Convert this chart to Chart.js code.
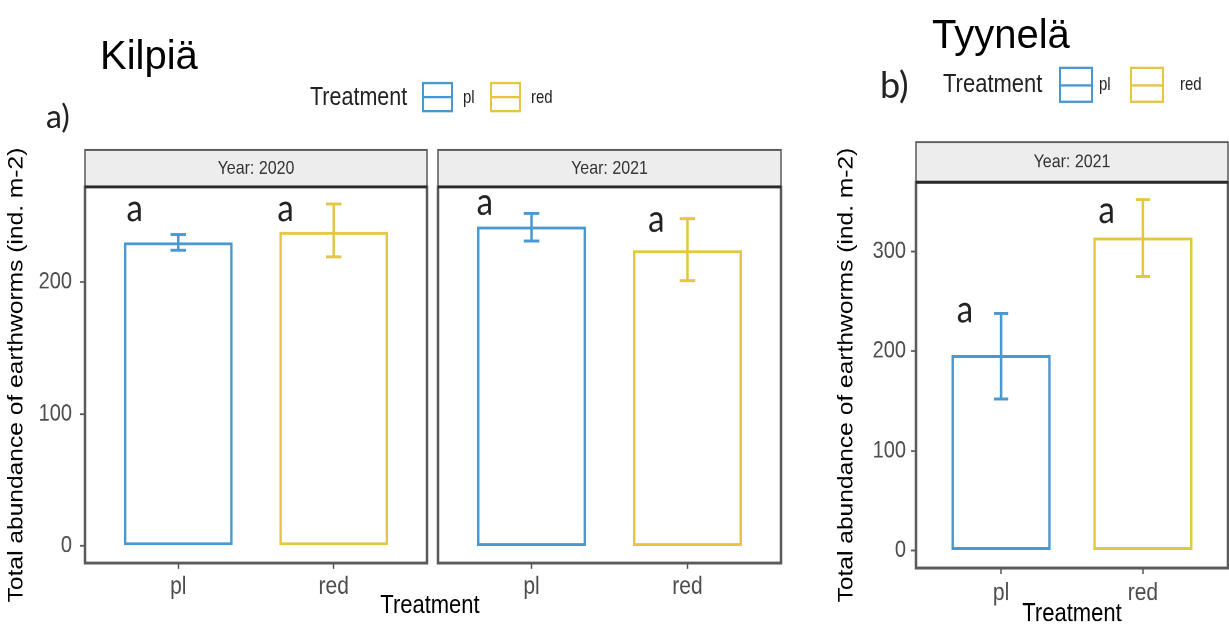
<!DOCTYPE html>
<html>
<head>
<meta charset="utf-8">
<script src="https://cdn.jsdelivr.net/npm/chart.js@4"></script>
<style>
  body { margin: 0; width: 1229px; height: 631px; background: #fff; position: relative; overflow: hidden; font-family: "Liberation Sans", Arial, sans-serif; }
  #fig { position: absolute; left: 0; top: 0; width: 1229px; height: 540px; transform: scaleY(1.17); transform-origin: 0 0; }
  .box { position: absolute; }
  .txt { position: absolute; white-space: nowrap; color: #222; }
  .key { position: absolute; box-sizing: border-box; border: 2px solid; background: #fff; }
  .key div { position: absolute; left: 0; right: 0; top: 50%; height: 2px; margin-top: -1px; }
  .title { position: absolute; font-size: 40px; line-height: 1; color: #000; white-space: nowrap; }
  .panel { position: absolute; font-family: Lato, "Open Sans", sans-serif; line-height: 1; color: #222; }
</style>
</head>
<body>
<div id="fig">
  <div class="box" style="left:0;top:118px;width:432px;height:422px"><canvas id="k2020"></canvas></div>
  <div class="box" style="left:432px;top:118px;width:352px;height:422px"><canvas id="k2021"></canvas></div>
  <div class="box" style="left:830px;top:118px;width:399px;height:422px"><canvas id="t2021"></canvas></div>

  <div class="txt" style="left:330px;top:504px;width:200px;text-align:center;font-size:22px;line-height:26px;color:#000">Treatment</div>

  <div class="txt" style="left:310px;top:69.7px;font-size:21.5px;line-height:26.5px">Treatment</div>
  <div class="key" style="left:422px;top:69.7px;width:31px;height:26.5px;border-color:#4a98d0"><div style="background:#4a98d0"></div></div>
  <div class="txt" style="left:463px;top:69.7px;font-size:15px;line-height:26.5px">pl</div>
  <div class="key" style="left:490px;top:69.7px;width:31px;height:26.5px;border-color:#e5c640"><div style="background:#e5c640"></div></div>
  <div class="txt" style="left:531px;top:69.7px;font-size:15px;line-height:26.5px">red</div>

  <div class="txt" style="left:943px;top:57.2px;font-size:22px;line-height:30.8px">Treatment</div>
  <div class="key" style="left:1059px;top:57.2px;width:34px;height:30.8px;border-color:#4a98d0"><div style="background:#4a98d0"></div></div>
  <div class="txt" style="left:1099px;top:57.2px;font-size:15px;line-height:30.8px">pl</div>
  <div class="key" style="left:1130px;top:57.2px;width:34px;height:30.8px;border-color:#e5c640"><div style="background:#e5c640"></div></div>
  <div class="txt" style="left:1180px;top:57.2px;font-size:15px;line-height:30.8px">red</div>
</div>

<div class="title" style="left:100px;top:35px">Kilpiä</div>
<div class="title" style="left:932px;top:14px">Tyynelä</div>
<div class="panel" style="left:46px;top:100px;font-size:32px">a)</div>
<div class="panel" style="left:880px;top:66px;font-size:36px">b)</div>

<script>
const treatments = ['pl', 'red'];
const treatmentColors = ['#4a98d0', '#e5c640'];
const yTitle = 'Total abundance of earthworms (ind. m-2)';

// Kilpiä, Year 2020
const kilpia2020Mean = [230, 238];
const kilpia2020Lower = [224, 219];
const kilpia2020Upper = [236, 259];
const kilpia2020Letters = ['a', 'a'];
const kilpia2020LetterX = [0.72, 1.69];
const kilpia2020LetterY = [253, 253];

// Kilpiä, Year 2021
const kilpia2021Mean = [242, 224];
const kilpia2021Lower = [231, 201];
const kilpia2021Upper = [252, 248];
const kilpia2021Letters = ['a', 'a'];
const kilpia2021LetterX = [0.70, 1.80];
const kilpia2021LetterY = [258, 245];

// Tyynelä, Year 2021
const tyynela2021Mean = [196, 314];
const tyynela2021Lower = [152, 275];
const tyynela2021Upper = [238, 352];
const tyynela2021Letters = ['a', 'a'];
const tyynela2021LetterX = [0.745, 1.745];
const tyynela2021LetterY = [238, 338];

const FONT = "'Liberation Sans', Arial, sans-serif";

// error bars, letters, panel border and facet strip
const facetPlugin = {
  id: 'facet',
  afterDatasetsDraw(chart, args, o) {
    const { ctx, scales: { x, y } } = chart;
    const half = x.getPixelForValue(1.05) - x.getPixelForValue(1);
    ctx.save();
    ctx.lineWidth = 2.5;
    o.lower.forEach((lo, i) => {
      const px = x.getPixelForValue(i + 1);
      const yl = y.getPixelForValue(lo), yu = y.getPixelForValue(o.upper[i]);
      ctx.strokeStyle = treatmentColors[i];
      ctx.beginPath();
      ctx.moveTo(px, yl); ctx.lineTo(px, yu);
      ctx.moveTo(px - half, yl); ctx.lineTo(px + half, yl);
      ctx.moveTo(px - half, yu); ctx.lineTo(px + half, yu);
      ctx.stroke();
    });
    ctx.fillStyle = '#222';
    ctx.font = "33px Lato, 'Open Sans', sans-serif";
    ctx.textAlign = 'center';
    ctx.textBaseline = 'alphabetic';
    o.letters.forEach((l, i) => {
      ctx.fillText(l, x.getPixelForValue(o.letterX[i]), y.getPixelForValue(o.letterY[i]) + 8);
    });
    ctx.restore();
  },
  afterDraw(chart, args, o) {
    const { ctx, chartArea: a } = chart;
    ctx.save();
    ctx.strokeStyle = '#5a5a5a';
    ctx.lineWidth = 2.5;
    ctx.strokeRect(a.left, a.top, a.right - a.left, a.bottom - a.top);
    const h = o.stripHeight;
    ctx.fillStyle = '#ededed';
    ctx.fillRect(a.left, a.top - h, a.right - a.left, h);
    ctx.lineWidth = 1.5;
    ctx.strokeRect(a.left, a.top - h, a.right - a.left, h);
    ctx.strokeStyle = '#2a2a2a';
    ctx.lineWidth = 2.5;
    ctx.beginPath(); ctx.moveTo(a.left, a.top); ctx.lineTo(a.right, a.top); ctx.stroke();
    ctx.fillStyle = '#333';
    ctx.font = '16px ' + FONT;
    ctx.textAlign = 'center';
    ctx.textBaseline = 'middle';
    ctx.fillText(o.strip, (a.left + a.right) / 2, a.top - h / 2);
    ctx.restore();
  }
};

function makeFacet(canvasId, cfg) {
  // facets of one figure share the y range (ggplot expands 5% each side)
  const maxUpper = Math.max(...cfg.sharedUpper);
  return new Chart(document.getElementById(canvasId), {
    type: 'bar',
    data: {
      datasets: [{
        data: treatments.map((t, i) => ({ x: i + 1, y: cfg.mean[i] })),
        backgroundColor: 'rgba(255,255,255,0)',
        borderColor: treatmentColors,
        borderWidth: 2.5,
        borderSkipped: false,
        categoryPercentage: 1,
        barPercentage: 0.7
      }]
    },
    options: {
      responsive: true,
      maintainAspectRatio: false,
      animation: false,
      devicePixelRatio: 2,
      layout: { padding: cfg.padding },
      plugins: {
        legend: { display: false },
        tooltip: { enabled: false },
        facet: {
          lower: cfg.lower, upper: cfg.upper,
          letters: cfg.letters, letterX: cfg.letterX, letterY: cfg.letterY,
          strip: cfg.strip, stripHeight: cfg.stripHeight
        }
      },
      scales: {
        x: {
          type: 'linear',
          offset: false,
          min: 0.4,
          max: 2.6,
          afterBuildTicks: s => { s.ticks = treatments.map((t, i) => ({ value: i + 1 })); },
          afterFit: s => { s.height = cfg.xHeight; },
          ticks: {
            callback: v => treatments[v - 1] || '',
            autoSkip: false, maxRotation: 0, padding: cfg.xPad,
            color: '#4d4d4d', font: { family: FONT, size: 21 }
          },
          grid: { offset: false, drawOnChartArea: false, tickLength: 5, tickColor: '#555', tickWidth: 1.5 },
          border: { display: false },
          title: {
            display: !!cfg.xTitle, text: 'Treatment', color: '#000',
            font: { family: FONT, size: 22 }, padding: { top: 0, bottom: 2 }
          }
        },
        y: {
          display: cfg.showY,
          min: -0.05 * maxUpper,
          max: 1.05 * maxUpper,
          afterFit: s => { s.width = cfg.yWidth; },
          ticks: {
            stepSize: 100, includeBounds: false, padding: cfg.yPad,
            color: '#4d4d4d', font: { family: FONT, size: 20 }
          },
          grid: { drawOnChartArea: false, tickLength: 5, tickColor: '#555', tickWidth: 1.5 },
          border: { display: false },
          title: {
            display: true, text: yTitle, color: '#000',
            font: { family: FONT, size: 21 }, padding: { top: 4, bottom: 0 }
          }
        }
      }
    },
    plugins: [facetPlugin]
  });
}

const kilpiaUpper = kilpia2020Upper.concat(kilpia2021Upper);

makeFacet('k2020', {
  mean: kilpia2020Mean, lower: kilpia2020Lower, upper: kilpia2020Upper, sharedUpper: kilpiaUpper,
  letters: kilpia2020Letters, letterX: kilpia2020LetterX, letterY: kilpia2020LetterY,
  strip: 'Year: 2020', stripHeight: 31.6,
  padding: { top: 41.8, right: 5, left: 0, bottom: 0 },
  showY: true, yWidth: 85, yPad: 8, xHeight: 58.8, xPad: 3, xTitle: false
});

makeFacet('k2021', {
  mean: kilpia2021Mean, lower: kilpia2021Lower, upper: kilpia2021Upper, sharedUpper: kilpiaUpper,
  letters: kilpia2021Letters, letterX: kilpia2021LetterX, letterY: kilpia2021LetterY,
  strip: 'Year: 2021', stripHeight: 31.6,
  padding: { top: 41.8, right: 3, left: 6, bottom: 0 },
  showY: false, yWidth: 0, yPad: 8, xHeight: 58.8, xPad: 3, xTitle: false
});

makeFacet('t2021', {
  mean: tyynela2021Mean, lower: tyynela2021Lower, upper: tyynela2021Upper, sharedUpper: tyynela2021Upper,
  letters: tyynela2021Letters, letterX: tyynela2021LetterX, letterY: tyynela2021LetterY,
  strip: 'Year: 2021', stripHeight: 34.2,
  padding: { top: 37.6, right: 1, left: 0, bottom: 0 },
  showY: true, yWidth: 86, yPad: 5, xHeight: 54.5, xPad: 4, xTitle: true
});
</script>
</body>
</html>
